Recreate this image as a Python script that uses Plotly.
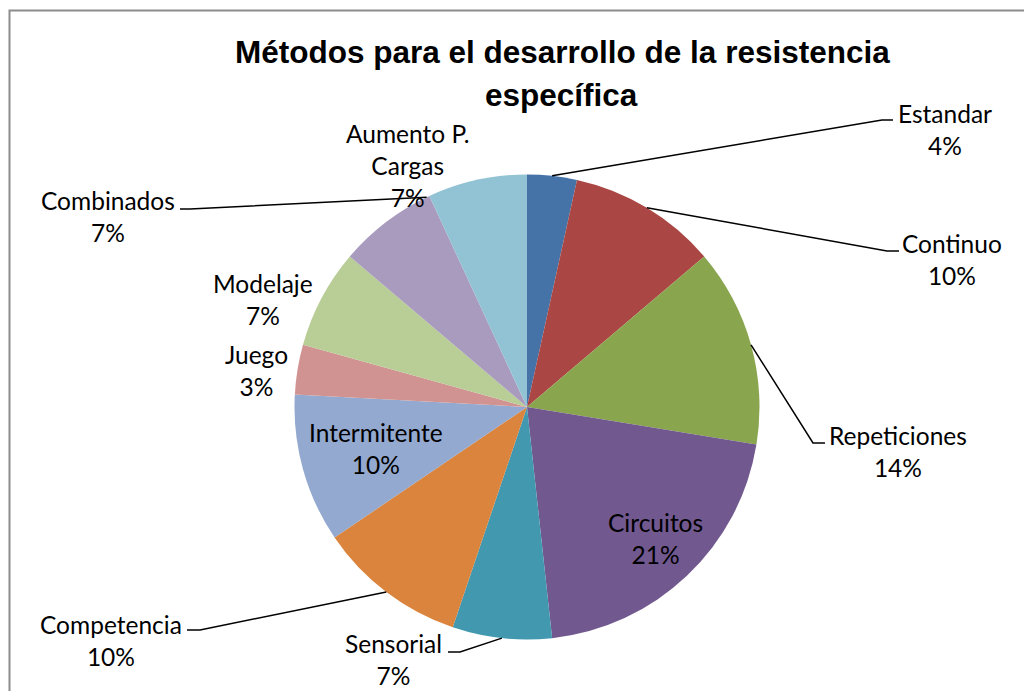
import math
import plotly.graph_objects as go

categories = ["Estandar", "Continuo", "Repeticiones", "Circuitos", "Sensorial",
              "Competencia", "Intermitente", "Juego", "Modelaje", "Combinados",
              "Aumento P. Cargas"]
counts = [1, 3, 4, 6, 2, 3, 3, 1, 2, 2, 2]
pct_labels = ["4%", "10%", "14%", "21%", "7%", "10%", "10%", "3%", "7%", "7%", "7%"]
colors = ["#4572A7", "#AA4643", "#89A54E", "#71588F", "#4198AF", "#DB843D",
          "#93A9CF", "#D19392", "#B9CD96", "#A99BBD", "#92C3D4"]
title_lines = ["Métodos para el desarrollo de la resistencia", "específica"]

# the page body keeps an 8px margin, so the figure is shrunk to fit the window
OFF = 8
W, H = 1032 - 2 * OFF, 699 - 2 * OFF
cx, cy, r = 527, 407, 232.5   # pie centre / radius in page px

# label centres (page px)
label_pos = {
    "Estandar": (945, 129), "Continuo": (952, 259), "Repeticiones": (898, 451),
    "Circuitos": (655, 538), "Sensorial": (393, 659), "Competencia": (111, 640),
    "Intermitente": (376, 448), "Juego": (256, 370), "Modelaje": (263, 299),
    "Combinados": (108, 217), "Aumento P. Cargas": (407, 165),
}
# leader lines: (where on the slice, elbow px, end px)
leaders = {
    "Estandar": (0.5, (882, 120), (893, 120)),
    "Continuo": (0.5, (887, 251), (899, 251)),
    "Repeticiones": (0.5, (813, 443), (825, 443)),
    "Sensorial": (0.5, (460, 652), (448, 652)),
    "Competencia": (0.5, (200, 630), (187, 630)),
    "Combinados": (0.97, (190, 209), (180, 209)),
}


def px(x, y):
    return (x - OFF) / W, 1 - (y - OFF) / H


x0, y1 = px(cx - r, cy - r)
x1, y0 = px(cx + r, cy + r)

fig = go.Figure()
fig.add_trace(go.Pie(
    labels=categories, values=counts, sort=False, direction="clockwise",
    rotation=0, textinfo="none", marker=dict(colors=colors, line=dict(width=0)),
    showlegend=False, domain=dict(x=[x0, x1], y=[y0, y1]),
))

total = sum(counts)
cum = 0
shapes = []
annotations = []
for cat, v, pct in zip(categories, counts, pct_labels):
    ax_, ay_ = px(*label_pos[cat])
    annotations.append(dict(
        x=ax_, y=ay_, xref="paper", yref="paper", showarrow=False,
        text=cat.replace("P. ", "P.<br>") + "<br>" + pct,
        font=dict(family="Lato", size=24.5, color="black"),
        xanchor="center", yanchor="middle",
    ))
    if cat in leaders:
        frac, elbow, end = leaders[cat]
        ang = math.radians(360 * (cum + frac * v) / total)
        tx, ty = cx + r * math.sin(ang), cy - r * math.cos(ang)
        pts = [px(tx, ty), px(*elbow), px(*end)]
        path = "M " + " L ".join(f"{a},{b}" for a, b in pts)
        shapes.append(dict(type="path", path=path, xref="paper", yref="paper",
                           line=dict(color="black", width=1.5)))
    cum += v

# chart frame
fx0, fy1 = px(9.5, 10.5)
shapes.append(dict(type="rect", xref="paper", yref="paper",
                   x0=fx0, x1=1.1, y0=-0.1, y1=fy1,
                   line=dict(color="#8c8c8c", width=2)))

for line, (tx, ty) in zip(title_lines, [(562.5, 52), (561, 95)]):
    tx_, ty_ = px(tx, ty)
    annotations.append(dict(
        x=tx_, y=ty_, xref="paper", yref="paper", showarrow=False,
        text="<b>" + line + "</b>",
        font=dict(family="Liberation Sans, Arial", size=31.5, color="black"),
        xanchor="center", yanchor="middle",
    ))

fig.update_layout(
    width=W, height=H, margin=dict(l=0, r=0, t=0, b=0),
    paper_bgcolor="white", plot_bgcolor="white",
    shapes=shapes, annotations=annotations,
)
fig.write_html("out.html")
